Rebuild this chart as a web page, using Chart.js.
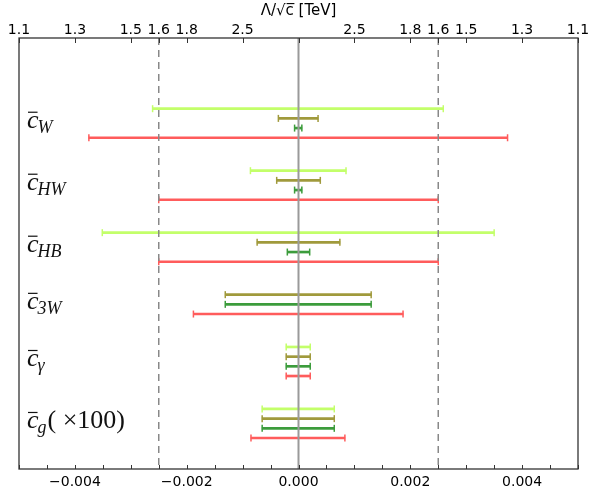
<!DOCTYPE html>
<html>
<head>
<meta charset="utf-8">
<script src="https://cdn.jsdelivr.net/npm/chart.js@4/dist/chart.umd.min.js"></script>
<style>
  html, body { margin: 0; padding: 0; background: #fff; }
</style>
</head>
<body>
<canvas id="chart" width="590" height="493"></canvas>
<script>
// coefficient names: c-bar with these subscripts
const subscripts = ["W", "HW", "HB", "3W", "γ", "g"];
const suffixes = ["", "", "", "", "", "( ×100)"];

// interval bounds per series (null = no bound for that coefficient)
const lightLo = [-0.00261, -0.00086, -0.00351, null, -0.00022, -0.00065];
const lightHi = [0.00259, 0.00085, 0.00350, null, 0.00021, 0.00064];
const oliveLo = [-0.00036, -0.00039, -0.00074, -0.00131, -0.00022, -0.00065];
const oliveHi = [0.00035, 0.00039, 0.00074, 0.00130, 0.00021, 0.00064];
const greenLo = [-0.00007, -0.00007, -0.00020, -0.00131, -0.00022, -0.00065];
const greenHi = [0.00006, 0.00006, 0.00020, 0.00130, 0.00021, 0.00064];
const redLo = [-0.00375, -0.0025, -0.0025, -0.00188, -0.00022, -0.00085];
const redHi = [0.00374, 0.0025, 0.0025, 0.00187, 0.00021, 0.00083];

// top axis: Λ/√c in TeV
const topTickValues = [-0.005, -0.004, -0.003, -0.0025, -0.002, -0.001, 0, 0.001, 0.002, 0.0025, 0.003, 0.004, 0.005];
const topTickLabels = ["1.1", "1.3", "1.5", "1.6", "1.8", "2.5", "", "2.5", "1.8", "1.6", "1.5", "1.3", "1.1"];

const series = [
  { lo: lightLo, hi: lightHi, color: "#c3ff6a" },
  { lo: oliveLo, hi: oliveHi, color: "#a09a3c" },
  { lo: greenLo, hi: greenHi, color: "#3c9c3c" },
  { lo: redLo, hi: redHi, color: "#ff5c5c" }
];

// stack rows one after another, with a wider gap between coefficients
const groupGap = 3.4;
const groupCenters = [];
const datasets = series.map(s => ({ data: [], backgroundColor: s.color }));
let pos = 0;
subscripts.forEach((sub, g) => {
  const rows = [];
  series.forEach((s, k) => {
    if (s.lo[g] === null) return;
    datasets[k].data.push({ x: [s.lo[g], s.hi[g]], y: pos });
    rows.push(pos);
    pos += 1;
  });
  groupCenters.push((rows[0] + rows[rows.length - 1]) / 2);
  pos += groupGap - 1;
});

const extras = {
  id: "extras",
  afterDatasetsDraw(chart) {
    const { ctx, chartArea: a, scales } = chart;
    ctx.save();

    // error bar caps
    chart.data.datasets.forEach((ds, i) => {
      ctx.strokeStyle = ds.backgroundColor;
      ctx.lineWidth = 1.5;
      chart.getDatasetMeta(i).data.forEach(el => {
        [el.x, el.base].forEach(px => {
          ctx.beginPath();
          ctx.moveTo(px, el.y - 3.5);
          ctx.lineTo(px, el.y + 3.5);
          ctx.stroke();
        });
      });
    });

    // zero line and unitarity lines
    const x0 = scales.x.getPixelForValue(0);
    ctx.strokeStyle = "#9a9a9a";
    ctx.lineWidth = 2;
    ctx.beginPath();
    ctx.moveTo(x0, a.top);
    ctx.lineTo(x0, a.bottom);
    ctx.stroke();
    ctx.strokeStyle = "#888";
    ctx.lineWidth = 1.5;
    ctx.setLineDash([7, 5]);
    [-0.0025, 0.0025].forEach(v => {
      const px = scales.x.getPixelForValue(v);
      ctx.beginPath();
      ctx.moveTo(px, a.top);
      ctx.lineTo(px, a.bottom);
      ctx.stroke();
    });
    ctx.setLineDash([]);

    // inward ticks
    ctx.strokeStyle = "#333";
    ctx.lineWidth = 1;
    scales.x.ticks.forEach(t => {
      const px = Math.round(scales.x.getPixelForValue(t.value)) + 0.5;
      ctx.beginPath();
      ctx.moveTo(px, a.bottom);
      ctx.lineTo(px, a.bottom - 4);
      ctx.stroke();
    });
    scales.x2.ticks.forEach(t => {
      const px = Math.round(scales.x2.getPixelForValue(t.value)) + 0.5;
      ctx.beginPath();
      ctx.moveTo(px, a.top);
      ctx.lineTo(px, a.top + 5);
      ctx.stroke();
    });

    // frame
    ctx.strokeStyle = "#333";
    ctx.lineWidth = 1.3;
    ctx.strokeRect(a.left, a.top, a.right - a.left, a.bottom - a.top);

    // coefficient labels
    ctx.fillStyle = "#111";
    ctx.textBaseline = "alphabetic";
    ctx.textAlign = "left";
    groupCenters.forEach((c, g) => {
      const base = scales.y.getPixelForValue(c) + 5;
      const x = 27;
      ctx.font = 'italic 26px "Liberation Serif"';
      ctx.fillText("c", x, base);
      const cw = ctx.measureText("c").width;
      ctx.lineWidth = 1.2;
      ctx.strokeStyle = "#111";
      ctx.beginPath();
      ctx.moveTo(x + 1, base - 16);
      ctx.lineTo(x + cw - 1, base - 16);
      ctx.stroke();
      ctx.font = 'italic 18px "Liberation Serif"';
      const sx = x + cw - 1;
      ctx.fillText(subscripts[g], sx, base + 5);
      const sw = ctx.measureText(subscripts[g]).width;
      if (suffixes[g]) {
        ctx.font = '26px "Liberation Serif"';
        ctx.fillText(suffixes[g], sx + sw + 1, base);
      }
    });
    ctx.restore();
  }
};

const minus = v => v.replace("-", "\u2212");

new Chart(document.getElementById("chart"), {
  type: "bar",
  data: { datasets: datasets },
  options: {
    responsive: false,
    animation: false,
    indexAxis: "y",
    layout: { padding: { left: 19, right: 12, top: 0, bottom: 0 } },
    datasets: { bar: { barThickness: 2, grouped: false, borderWidth: 0 } },
    plugins: { legend: { display: false }, tooltip: { enabled: false } },
    scales: {
      y: { type: "linear", display: false, offset: false, reverse: true, min: -7.3, max: 37.2 },
      x: {
        type: "linear",
        position: "bottom",
        min: -0.005,
        max: 0.005,
        grid: { display: false, drawTicks: false },
        border: { display: false },
        afterFit: s => { s.height = 24; },
        ticks: {
          stepSize: 0.0005,
          autoSkip: false,
          maxRotation: 0,
          padding: 5,
          color: "#000",
          font: { family: "DejaVu Sans", size: 14 },
          callback: v => {
            const k = Math.round(v / 0.002);
            if (Math.abs(k * 0.002 - v) > 1e-9 || Math.abs(v) > 0.0045) return "";
            return minus((k * 0.002).toFixed(3));
          }
        }
      },
      x2: {
        type: "linear",
        position: "top",
        min: -0.005,
        max: 0.005,
        grid: { display: false, drawTicks: false },
        border: { display: false },
        afterFit: s => { s.height = 38; },
        afterBuildTicks: s => { s.ticks = topTickValues.map(v => ({ value: v })); },
        title: {
          display: true,
          text: "Λ/√c̅ [TeV]",
          color: "#000",
          font: { family: "DejaVu Sans", size: 15 },
          padding: { top: 2, bottom: 0 }
        },
        ticks: {
          autoSkip: false,
          maxRotation: 0,
          padding: -1,
          color: "#000",
          font: { family: "DejaVu Sans", size: 14 },
          callback: (v, i) => topTickLabels[i]
        }
      }
    }
  },
  plugins: [extras]
});
</script>
</body>
</html>
